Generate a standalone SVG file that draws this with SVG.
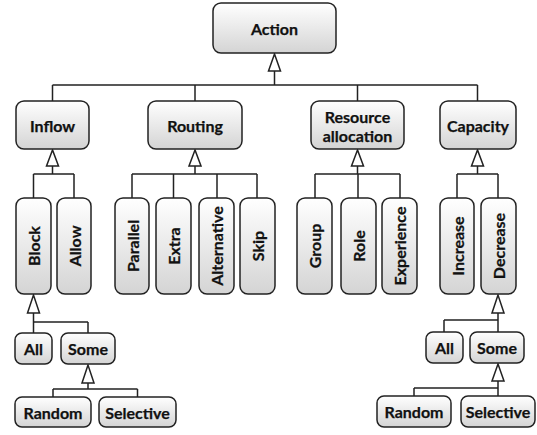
<svg xmlns="http://www.w3.org/2000/svg" width="537" height="435" viewBox="0 0 537 435">
<defs>
<linearGradient id="g" x1="0" y1="0" x2="0" y2="1">
<stop offset="0" stop-color="#ffffff"/>
<stop offset="1" stop-color="#d4d4d4"/>
</linearGradient>
</defs>
<style>
.b{fill:url(#g);stroke:#222;stroke-width:1.5}
.t{font-family:Lato,"Open Sans",sans-serif;font-weight:bold;font-size:16px;fill:#111;stroke:#111;stroke-width:0.25;text-anchor:middle;dominant-baseline:central}
.c{fill:none;stroke:#222;stroke-width:1.5}
.a{fill:#fff;stroke:#222;stroke-width:1.5;stroke-linejoin:miter}
</style>
<rect width="537" height="435" fill="#fff"/>
<g id="connectors">
<path class="c" d="M274.5 71V85M52.5 85H477.5M52.5 85V101M195 85V101M357.5 85V101M477.5 85V101"/>
<path class="a" d="M274.5 54L268.5 71H280.5Z"/>
<path class="c" d="M52.5 166V174M33.5 174H74M33.5 174V198M74 174V198"/>
<path class="a" d="M52.5 150L46.5 166H58.5Z"/>
<path class="c" d="M195 166V174M132 174H257M132 174V198M173.5 174V198M217 174V198M257 174V198"/>
<path class="a" d="M195 150L189 166H201Z"/>
<path class="c" d="M357.5 166V174M315 174H400M315 174V198M358 174V198M400 174V198"/>
<path class="a" d="M357.5 150L351.5 166H363.5Z"/>
<path class="c" d="M477.5 166V174M457 174H498M457 174V198M498 174V198"/>
<path class="a" d="M477.5 150L471.5 166H483.5Z"/>
<path class="c" d="M33.5 313V322M33.5 322H88M33.5 322V333M88 322V333"/>
<path class="a" d="M33.5 295L27.5 313H39.5Z"/>
<path class="c" d="M88 383V389M53 389H137.5M53 389V397M137.5 389V397"/>
<path class="a" d="M88 365L82 383H94Z"/>
<path class="c" d="M498 313V320M444 320H498M444 320V332M498 320V332"/>
<path class="a" d="M498 295L492 313H504Z"/>
<path class="c" d="M498 381V388M414 388H498M414 388V396M498 388V396"/>
<path class="a" d="M498 364L492 381H504Z"/>
</g>
<g id="action"><rect class="b" x="213" y="3" width="123" height="50" rx="8"/><text class="t" x="274.5" y="28">Action</text></g>
<g id="inflow"><rect class="b" x="16" y="101" width="73" height="48" rx="8"/><text class="t" x="52.5" y="125">Inflow</text></g>
<g id="routing"><rect class="b" x="148" y="101" width="94" height="48" rx="8"/><text class="t" x="195" y="125">Routing</text></g>
<g id="resource"><rect class="b" x="311" y="101" width="93" height="48" rx="8"/><text class="t" x="357.5" y="116">Resource</text><text class="t" x="357.5" y="135">allocation</text></g>
<g id="capacity"><rect class="b" x="440" y="101" width="76" height="48" rx="8"/><text class="t" x="478" y="125">Capacity</text></g>
<g id="block"><rect class="b" x="16" y="198" width="35" height="96" rx="8"/><text class="t" transform="translate(33.5 246) rotate(-90)">Block</text></g>
<g id="allow"><rect class="b" x="57" y="198" width="34" height="96" rx="8"/><text class="t" transform="translate(74 246) rotate(-90)">Allow</text></g>
<g id="parallel"><rect class="b" x="115" y="198" width="34" height="96" rx="8"/><text class="t" transform="translate(132 246) rotate(-90)">Parallel</text></g>
<g id="extra"><rect class="b" x="156" y="198" width="35" height="96" rx="8"/><text class="t" transform="translate(173.5 246) rotate(-90)">Extra</text></g>
<g id="alternative"><rect class="b" x="199" y="198" width="35" height="96" rx="8"/><text class="t" transform="translate(216.5 246) rotate(-90)">Alternative</text></g>
<g id="skip"><rect class="b" x="240" y="198" width="35" height="96" rx="8"/><text class="t" transform="translate(257.5 246) rotate(-90)">Skip</text></g>
<g id="group"><rect class="b" x="297" y="198" width="35" height="96" rx="8"/><text class="t" transform="translate(314.5 246) rotate(-90)">Group</text></g>
<g id="role"><rect class="b" x="341" y="198" width="35" height="96" rx="8"/><text class="t" transform="translate(358.5 246) rotate(-90)">Role</text></g>
<g id="experience"><rect class="b" x="382" y="198" width="35" height="96" rx="8"/><text class="t" transform="translate(399.5 246) rotate(-90)">Experience</text></g>
<g id="increase"><rect class="b" x="440" y="198" width="34" height="96" rx="8"/><text class="t" transform="translate(457 246) rotate(-90)">Increase</text></g>
<g id="decrease"><rect class="b" x="481" y="198" width="35" height="96" rx="8"/><text class="t" transform="translate(498.5 246) rotate(-90)">Decrease</text></g>
<g id="all1"><rect class="b" x="15" y="333" width="37" height="31" rx="7"/><text class="t" x="33.5" y="348.5">All</text></g>
<g id="some1"><rect class="b" x="61" y="333" width="54" height="31" rx="7"/><text class="t" x="88" y="348.5">Some</text></g>
<g id="random1"><rect class="b" x="15" y="397" width="76" height="30" rx="7"/><text class="t" x="53" y="412">Random</text></g>
<g id="selective1"><rect class="b" x="99" y="397" width="77" height="30" rx="7"/><text class="t" x="137.5" y="412">Selective</text></g>
<g id="all2"><rect class="b" x="426" y="332" width="37" height="31" rx="7"/><text class="t" x="444.5" y="347.5">All</text></g>
<g id="some2"><rect class="b" x="470" y="332" width="54" height="31" rx="7"/><text class="t" x="497" y="347.5">Some</text></g>
<g id="random2"><rect class="b" x="377" y="396" width="74" height="31" rx="7"/><text class="t" x="414" y="411.5">Random</text></g>
<g id="selective2"><rect class="b" x="461" y="396" width="74" height="31" rx="7"/><text class="t" x="498" y="411.5">Selective</text></g>
</svg>
